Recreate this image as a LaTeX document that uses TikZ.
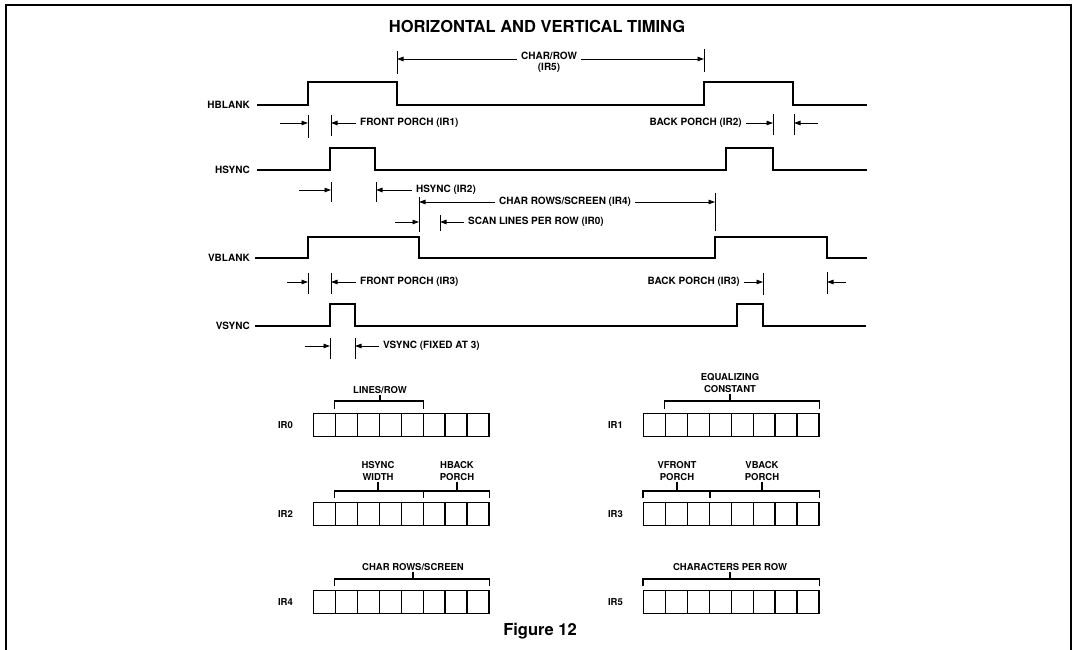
\documentclass[tikz,border=0pt]{standalone}
\usepackage{fontspec}
\setmainfont{TeX Gyre Heros}
\usetikzlibrary{arrows.meta,positioning,calc}
\tikzset{
  frame/.style={line width=2pt},
  ttl/.style={font=\bfseries\fontsize{16.5}{18}\selectfont, inner sep=0pt},
  capt/.style={font=\bfseries\fontsize{16.5}{18}\selectfont, inner sep=0pt},
  sig/.style={font=\bfseries\fontsize{10}{12}\selectfont, anchor=east, inner sep=0pt},
  wave/.style={line width=2.4pt, line join=miter},
  dimtext/.style={font=\bfseries\fontsize{10}{12}\selectfont, inner xsep=4pt, inner ysep=0pt},
  tickln/.style={line width=1pt},
  flow/.style={-{Triangle[length=6.5pt,width=4.5pt]}, line width=0.9pt},
  cell/.style={draw, line width=1.3pt, anchor=north west, minimum width=21.9pt,
               minimum height=23pt, inner sep=0pt},
  regname/.style={font=\bfseries\fontsize{9.5}{11}\selectfont, inner sep=0pt},
  brlbl/.style={font=\bfseries\fontsize{9.5}{12}\selectfont, align=center, inner sep=1pt},
  brk/.style={line width=1.1pt},
}
\begin{document}
\begin{tikzpicture}[x=1pt, y=-1pt]
  \useasboundingbox (0,0) rectangle (1073,650);
  \draw[frame] (5.5,652) -- (5.5,5.5) -- (1071,5.5) -- (1071,652);
  \node[ttl] (title) at (537,26) {HORIZONTAL AND VERTICAL TIMING};

  % signals
  \node[sig] (hblank) at (250,105) {HBLANK};
  \node[sig] (hsync) at (250,170) {HSYNC};
  \node[sig] (vblank) at (250,258) {VBLANK};
  \node[sig] (vsync) at (250,326) {VSYNC};
  \draw[wave] ([xshift=7pt]hblank.east) -| (308,82) -| (397,105) -| (704,82) -| (793,105) -- (867,105);
  \draw[wave] ([xshift=7pt]hsync.east) -| (330,148) -| (375,170) -| (726,148) -| (773,170) -- (867,170);
  \draw[wave] ([xshift=5pt]vblank.east) -| (308,237) -| (419,258) -| (715,237) -| (827,258) -- (867,258);
  \draw[wave] ([xshift=5pt]vsync.east) -| (330,304) -| (355,326) -| (737,304) -| (763,326) -- (866,326);

  % char/row
  \coordinate (crl) at (397,59);
  \coordinate (crr) at (704,59);
  \draw[tickln] (397,51) -- (397,74);
  \draw[tickln] (704,49) -- (704,72);
  \node[dimtext] (crow) at (549,56) {CHAR/ROW};
  \node[dimtext] (crowir) at (549,68) {(IR5)};
  \draw[flow] (crow.west |- crl) -- (crl);
  \draw[flow] (crow.east |- crr) -- (crr);

  % hblank porches
  \coordinate (fp1a) at (308,123);
  \coordinate (fp1b) at (331,123);
  \draw[tickln] (308,115) -- (308,138);
  \draw[tickln] (331,115) -- (331,136);
  \draw[flow] (280,123) -- (fp1a);
  \node[dimtext, anchor=west] (fp1) at (356,123) {FRONT PORCH (IR1)};
  \draw[flow] (fp1.west) -- (fp1b);
  \coordinate (bp2a) at (773,123);
  \coordinate (bp2b) at (794,123);
  \draw[tickln] (773,114) -- (773,135);
  \draw[tickln] (794,114) -- (794,135);
  \node[dimtext, anchor=east] (bp2) at (746,123) {BACK PORCH (IR2)};
  \draw[flow] (bp2.east) -- (bp2a);
  \draw[flow] (818,123) -- (bp2b);

  % hsync width
  \coordinate (hs2a) at (331,190);
  \coordinate (hs2b) at (376,190);
  \draw[tickln] (331,182) -- (331,202);
  \draw[tickln] (376,182) -- (376,202);
  \draw[flow] (299,190) -- (hs2a);
  \node[dimtext, anchor=west] (hs2) at (412,190) {HSYNC (IR2)};
  \draw[flow] (hs2.west) -- (hs2b);

  % char rows/screen and scan lines
  \coordinate (cr4a) at (419,202);
  \coordinate (cr4b) at (715,202);
  \draw[tickln] (419,197) -- (419,232);
  \draw[tickln] (715,193) -- (715,231);
  \node[dimtext] (cr4) at (565,202) {CHAR ROWS/SCREEN (IR4)};
  \draw[flow] (cr4.west) -- (cr4a);
  \draw[flow] (cr4.east) -- (cr4b);
  \coordinate (sl0a) at (419,222);
  \coordinate (sl0b) at (440,222);
  \draw[tickln] (440,215) -- (440,231);
  \draw[flow] (395,222) -- (sl0a);
  \node[dimtext, anchor=west] (sl0) at (464,222) {SCAN LINES PER ROW (IR0)};
  \draw[flow] (sl0.west) -- (sl0b);

  % vblank porches
  \coordinate (fp3a) at (308,282);
  \coordinate (fp3b) at (331,282);
  \draw[tickln] (308,273) -- (308,294);
  \draw[tickln] (331,273) -- (331,294);
  \draw[flow] (287,282) -- (fp3a);
  \node[dimtext, anchor=west] (fp3) at (356,282) {FRONT PORCH (IR3)};
  \draw[flow] (fp3.west) -- (fp3b);
  \coordinate (bp3a) at (763,282);
  \coordinate (bp3b) at (827,282);
  \draw[tickln] (763,273) -- (763,295);
  \draw[tickln] (827,272) -- (827,294);
  \node[dimtext, anchor=east] (bp3) at (744,282) {BACK PORCH (IR3)};
  \draw[flow] (bp3.east) -- (bp3a);
  \draw[flow] (846,282) -- (bp3b);

  % vsync width
  \coordinate (vsa) at (330,346);
  \coordinate (vsb) at (355,346);
  \draw[tickln] (330,338) -- (330,359);
  \draw[tickln] (355,338) -- (355,359);
  \draw[flow] (305,346) -- (vsa);
  \node[dimtext, anchor=west] (vsw) at (379,346) {VSYNC (FIXED AT 3)};
  \draw[flow] (vsw.west) -- (vsb);

  % registers
  \foreach \r/\x/\y in {0/313/413, 1/643/413, 2/313/502, 3/643/502, 4/313/590, 5/643/590} {
    \foreach \i in {0,...,7}
      \node[cell] (ir\r-\i) at ({\x+\i*21.9},\y) {};
    \node[regname, left=20pt of ir\r-0] (ir\r) {IR\r};
  }

  % ir0
  \draw[brk] ($(ir0-1.north west)+(0,-4)$) |- ($(ir0-4.north east)+(0,-12)$) coordinate (b0) -- ++(0,8);
  \node[brlbl] (lpr) at (380,390) {LINES/ROW};
  \draw[brk] (lpr.south) -- (lpr.south |- b0);
  % ir1
  \draw[brk] ($(ir1-1.north west)+(0,-4)$) |- ($(ir1-7.north east)+(0,-12)$) coordinate (b1) -- ++(0,8);
  \node[brlbl] (eqc) at (730,383) {EQUALIZING\\CONSTANT};
  \draw[brk] (eqc.south) -- (eqc.south |- b1);
  % ir2
  \draw[brk] ($(ir2-1.north west)+(0,-4)$) |- ($(ir2-4.north east)+(0,-11)$) coordinate (b2) -- ++(0,7);
  \draw[brk] (b2) -- ($(ir2-7.north east)+(0,-11)$) -- ++(0,7);
  \node[brlbl] (hsw) at (378,471) {HSYNC\\WIDTH};
  \node[brlbl] (hbp) at (457,471) {HBACK\\PORCH};
  \draw[brk] (hsw.south) -- (hsw.south |- b2);
  \draw[brk] (hbp.south) -- (hbp.south |- b2);
  % ir3
  \draw[brk] ($(ir3-0.north west)+(0,-4)$) |- ($(ir3-2.north east)+(0,-11)$) coordinate (b3) -- ++(0,7);
  \draw[brk] (b3) -- ($(ir3-7.north east)+(0,-11)$) -- ++(0,7);
  \node[brlbl] (vfp) at (677,471) {VFRONT\\PORCH};
  \node[brlbl] (vbp) at (762,471) {VBACK\\PORCH};
  \draw[brk] (vfp.south) -- (vfp.south |- b3);
  \draw[brk] (vbp.south) -- (vbp.south |- b3);
  % ir4
  \draw[brk] ($(ir4-1.north west)+(0,-4)$) |- ($(ir4-7.north east)+(0,-11)$) coordinate (b4) -- ++(0,7);
  \node[brlbl] (crs) at (413,567) {CHAR ROWS/SCREEN};
  \draw[brk] (crs.south) -- (crs.south |- b4);
  % ir5
  \draw[brk] ($(ir5-0.north west)+(0,-4)$) |- ($(ir5-7.north east)+(0,-11)$) coordinate (b5) -- ++(0,7);
  \node[brlbl] (cpr) at (730,567) {CHARACTERS PER ROW};
  \draw[brk] (cpr.south) -- (cpr.south |- b5);

  \node[capt] (fig) at (540,631) {Figure 12};
\end{tikzpicture}
\end{document}
